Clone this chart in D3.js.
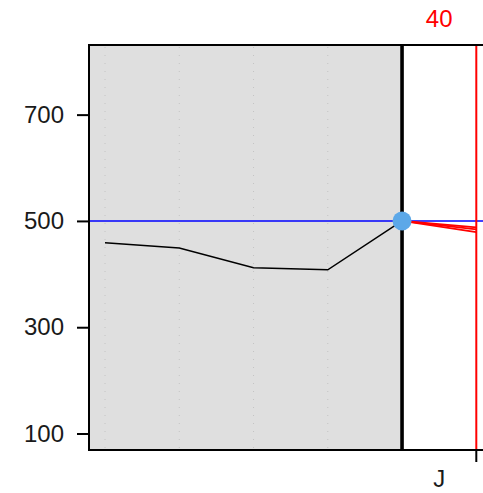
<!DOCTYPE html>
<html><head><meta charset="utf-8">
<script src="https://cdn.jsdelivr.net/npm/d3@7"></script>
<style>html,body{margin:0;padding:0;background:#fff;}svg{display:block;}</style>
</head><body><svg id="c" width="483" height="493"></svg>
<script>
// ---- data ----
const periods = [0, 1, 2, 3, 4];              // observed periods
const values = [459, 449, 412, 408, 500];    // observed series
const forecastEnds = [488, 484, 479];        // forecast paths to next period
const targetValue = 500;                      // horizontal reference
const yTicks = [100, 300, 500, 700];
const nextPeriod = 5;
const bottomLabel = "J";
const topLabel = "40";

const W = 483, H = 493;
const svg = d3.select("#c");
const pLeft = 89, pTop = 45, pBottom = 450;

const x = d3.scaleLinear().domain([0, 5]).range([105, 476.3]);
const y = d3.scaleLinear().domain([69, 831]).range([pBottom, pTop]);

const xNow = periods[periods.length - 1];

// grey shaded history region
svg.append("rect").attr("x", pLeft).attr("y", pTop)
  .attr("width", x(xNow) - pLeft).attr("height", pBottom - pTop)
  .attr("fill", "#dfdfdf");

// dotted gridlines
svg.append("g").selectAll("line").data(periods.slice(0, -1)).join("line")
  .attr("x1", d => x(d)).attr("x2", d => x(d))
  .attr("y1", pTop + 2).attr("y2", pBottom)
  .attr("stroke", "#c4c4c4").attr("stroke-width", 1)
  .attr("stroke-dasharray", "1,7");

// target line
svg.append("line").attr("x1", pLeft).attr("x2", W)
  .attr("y1", y(targetValue)).attr("y2", y(targetValue))
  .attr("stroke", "#0000ff").attr("stroke-width", 1.6);

// observed line
const line = d3.line().x((d, i) => x(periods[i])).y(d => y(d));
svg.append("path").datum(values).attr("d", line)
  .attr("fill", "none").attr("stroke", "#000").attr("stroke-width", 1.5);

// forecast lines
svg.append("g").selectAll("line").data(forecastEnds).join("line")
  .attr("x1", x(xNow)).attr("y1", y(values[values.length - 1]))
  .attr("x2", x(nextPeriod)).attr("y2", d => y(d))
  .attr("stroke", "#ff0000").attr("stroke-width", 1.8);

// red vertical at next period
svg.append("line").attr("x1", x(nextPeriod)).attr("x2", x(nextPeriod))
  .attr("y1", pTop).attr("y2", pBottom)
  .attr("stroke", "#ff0000").attr("stroke-width", 2);

// thick black current line
svg.append("line").attr("x1", x(xNow)).attr("x2", x(xNow))
  .attr("y1", pTop).attr("y2", pBottom)
  .attr("stroke", "#000").attr("stroke-width", 3.6);

// frame
svg.append("path")
  .attr("d", `M${W + 5},${pTop}H${pLeft}V${pBottom}H${W + 5}`)
  .attr("fill", "none").attr("stroke", "#000").attr("stroke-width", 2);

// point
svg.append("circle").attr("cx", x(xNow)).attr("cy", y(values[values.length - 1]))
  .attr("r", 9.5).attr("fill", "#5ca8e8");

// y axis
const yAxis = d3.axisLeft(y).tickValues(yTicks).tickSize(12).tickPadding(13);
const ga = svg.append("g").attr("transform", `translate(${pLeft},0)`).call(yAxis);
ga.select(".domain").remove();
ga.selectAll(".tick line").attr("stroke", "#000").attr("stroke-width", 2);
ga.selectAll(".tick text").attr("font-family", "Liberation Sans, Arial, sans-serif")
  .attr("font-size", 24).attr("fill", "#1a1a1a");

// bottom tick at next period
svg.append("line").attr("x1", x(nextPeriod)).attr("x2", x(nextPeriod))
  .attr("y1", pBottom).attr("y2", pBottom + 12)
  .attr("stroke", "#000").attr("stroke-width", 2);

const mid = (x(xNow) + x(nextPeriod)) / 2;
svg.append("text").attr("x", mid).attr("y", 487).attr("text-anchor", "middle")
  .attr("font-family", "Liberation Sans, Arial, sans-serif").attr("font-size", 24)
  .attr("fill", "#1a1a1a").text(bottomLabel);
svg.append("text").attr("x", mid).attr("y", 27).attr("text-anchor", "middle")
  .attr("font-family", "Liberation Sans, Arial, sans-serif").attr("font-size", 24)
  .attr("fill", "#ff0000").text(topLabel);
</script></body></html>
